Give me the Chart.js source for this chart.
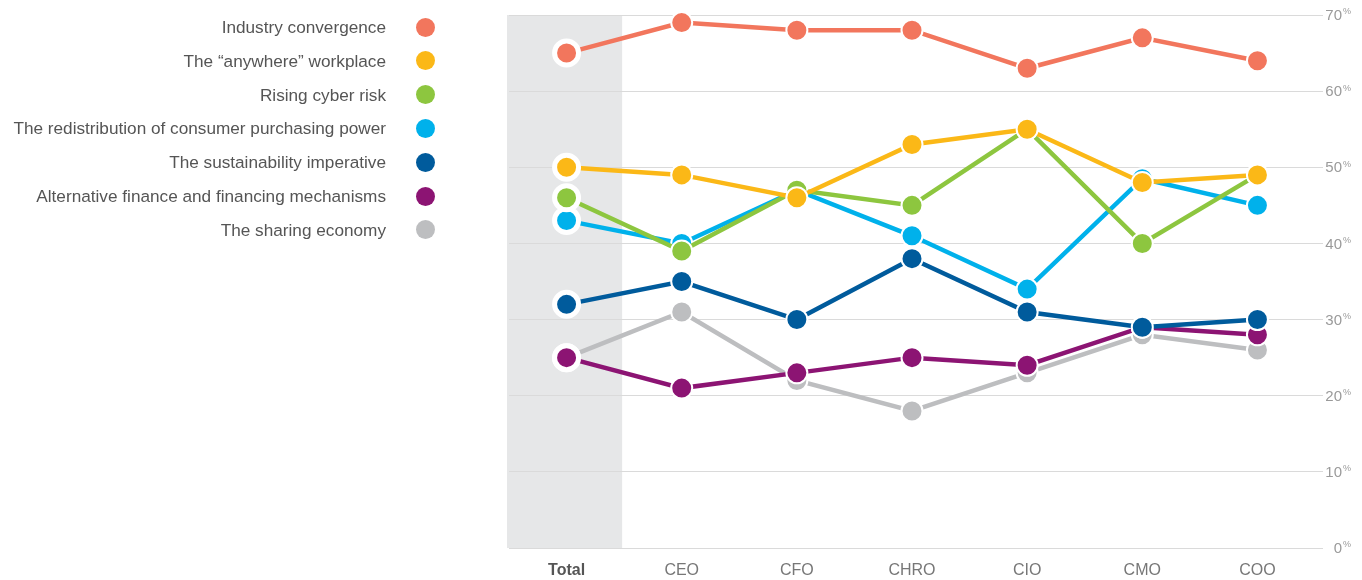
<!DOCTYPE html>
<html>
<head>
<meta charset="utf-8">
<script src="https://cdn.jsdelivr.net/npm/chart.js@4"></script>
<style>
  body { margin: 0; background: #fff; font-family: "Liberation Sans", Arial, sans-serif; }
  #wrap { position: relative; width: 1362px; height: 580px; }
  #chart { position: absolute; left: 0; top: 0; }
  .leg { position: absolute; left: 0; width: 386px; text-align: right; font-size: 17.2px; color: #555; line-height: 20px; white-space: nowrap; }
  .dot { position: absolute; width: 19px; height: 19px; border-radius: 50%; }
</style>
</head>
<body>
<div id="wrap">
  <canvas id="chart" width="1362" height="580"></canvas>
  <div id="legend"></div>
</div>
<script>
    // Categorías del eje X
    const categories = ['Total', 'CEO', 'CFO', 'CHRO', 'CIO', 'CMO', 'COO'];
    // Marcas del eje Y (porcentaje)
    const yTicks = [0, 10, 20, 30, 40, 50, 60, 70];

    // Nombres de las series (orden de la leyenda)
    const seriesNames = [
        'Industry convergence',
        'The \u201canywhere\u201d workplace',
        'Rising cyber risk',
        'The redistribution of consumer purchasing power',
        'The sustainability imperative',
        'Alternative finance and financing mechanisms',
        'The sharing economy'
    ];

    // Valores de cada serie
    const industryConvergence = [65, 69, 68, 68, 63, 67, 64];
    const anywhereWorkplace   = [50, 49, 46, 53, 55, 48, 49];
    const cyberRisk           = [46, 39, 47, 45, 55, 40, 49];
    const purchasingPower     = [43, 40, 47, 41, 34, 48.5, 45];
    const sustainability      = [32, 35, 30, 38, 31, 29, 30];
    const altFinance          = [25, 21, 23, 25, 24, 29, 28];
    const sharingEconomy      = [25, 31, 22, 18, 23, 28, 26];

    const seriesValues = [industryConvergence, anywhereWorkplace, cyberRisk, purchasingPower,
                          sustainability, altFinance, sharingEconomy];

    const seriesColors = ['#f2765d', '#fbb817', '#8dc63f', '#00b1eb', '#005b9c', '#8c1473', '#bdbec0'];

    // Leyenda HTML a la izquierda
    const legendEl = document.getElementById('legend');
    seriesNames.forEach((name, i) => {
        const y = 27 + i * 33.8;
        const t = document.createElement('div');
        t.className = 'leg';
        t.style.top = (y - 10) + 'px';
        t.textContent = name;
        legendEl.appendChild(t);
        const d = document.createElement('div');
        d.className = 'dot';
        d.style.left = (425 - 9.5) + 'px';
        d.style.top = (y - 9.5) + 'px';
        d.style.background = seriesColors[i];
        legendEl.appendChild(d);
    });

    // Banda gris detrás de la columna "Total"
    const totalBand = {
        id: 'totalBand',
        beforeDraw(chart) {
            const { ctx, chartArea, scales } = chart;
            const x0 = scales.x.getPixelForTick(0);
            const x1 = scales.x.getPixelForTick(1);
            ctx.save();
            ctx.fillStyle = '#e6e7e8';
            ctx.fillRect(x0 - (x1 - x0) / 2 - 2, chartArea.top, (x1 - x0), chartArea.bottom - chartArea.top);
            ctx.restore();
        }
    };

    // Etiquetas del eje Y con "%" pequeño en superíndice
    const yLabels = {
        id: 'yLabels',
        afterDraw(chart) {
            const { ctx, scales } = chart;
            ctx.save();
            ctx.fillStyle = '#9a9a9a';
            yTicks.forEach(v => {
                const y = scales.y.getPixelForValue(v);
                ctx.font = '15px "Liberation Sans", Arial, sans-serif';
                ctx.textAlign = 'right';
                ctx.textBaseline = 'middle';
                ctx.fillText(String(v), 1342, y + 1);
                ctx.font = '9px "Liberation Sans", Arial, sans-serif';
                ctx.textAlign = 'left';
                ctx.fillText('%', 1343, y - 3);
            });
            ctx.restore();
        }
    };

    const datasets = seriesNames.map((name, i) => ({
        label: name,
        data: seriesValues[i],
        borderColor: seriesColors[i],
        backgroundColor: seriesColors[i],
        borderWidth: 4.5,
        tension: 0,
        clip: false,
        pointRadius: categories.map((c, j) => j === 0 ? 12 : 10.5),
        pointHoverRadius: categories.map((c, j) => j === 0 ? 12 : 10.5),
        pointBorderWidth: categories.map((c, j) => j === 0 ? 5 : 2),
        pointBorderColor: '#ffffff',
        pointBackgroundColor: seriesColors[i]
    }));

    new Chart(document.getElementById('chart').getContext('2d'), {
        type: 'line',
        data: { labels: categories, datasets: datasets },
        plugins: [totalBand, yLabels],
        options: {
            responsive: false,
            animation: false,
            layout: { autoPadding: false, padding: { left: 509, right: 0, top: 15, bottom: 0 } },
            scales: {
                x: {
                    offset: true,
                    grid: { display: false, drawTicks: false },
                    border: { display: false },
                    ticks: {
                        padding: 13,
                        color: (c) => c.index === 0 ? '#555' : '#777',
                        font: (c) => ({
                            family: '"Liberation Sans", Arial, sans-serif',
                            size: 16,
                            weight: c.index === 0 ? 'bold' : 'normal'
                        })
                    },
                    afterFit(scale) { scale.height = 32; }
                },
                y: {
                    position: 'right',
                    min: 0,
                    max: 70,
                    ticks: { stepSize: 10, display: false },
                    grid: { color: '#dadada', lineWidth: 1, tickLength: 8 },
                    border: { display: false },
                    afterFit(scale) { scale.width = 47; }
                }
            },
            plugins: {
                legend: { display: false },
                tooltip: { enabled: false }
            }
        }
    });
</script>
</body>
</html>
